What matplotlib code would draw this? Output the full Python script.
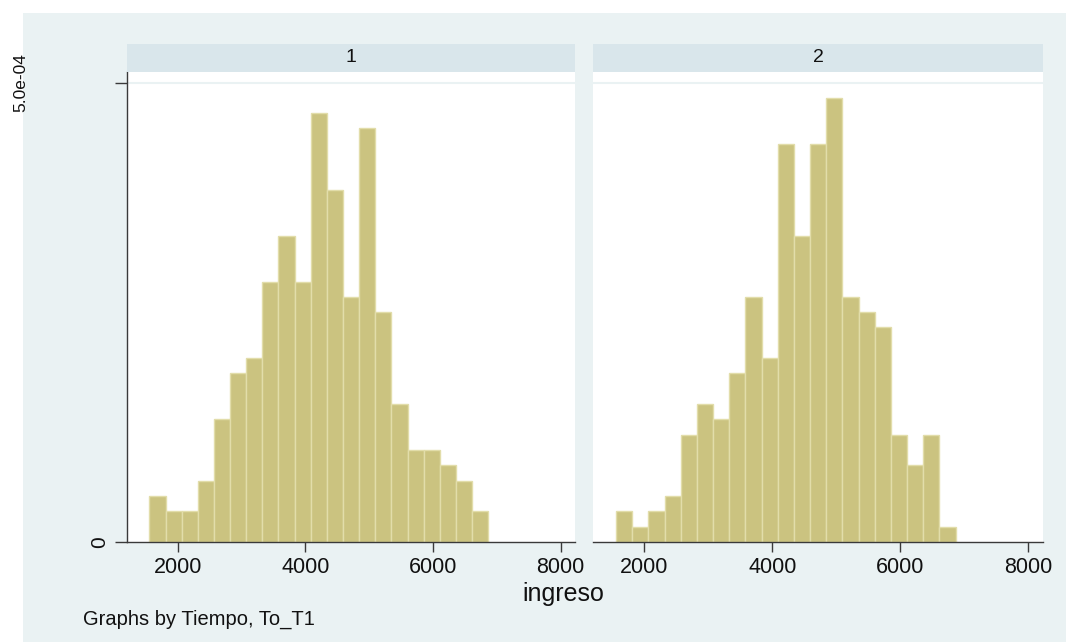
import numpy as np
import matplotlib
matplotlib.use("Agg")
import matplotlib.pyplot as plt
from matplotlib.patches import Rectangle
from matplotlib.transforms import ScaledTranslation

plt.rcParams["font.family"] = ["Liberation Sans", "DejaVu Sans"]

# Histogram of ingreso by Tiempo (21 common bins)
bin_start = 1557.0
bin_width = 252.8
counts_t1 = [3, 2, 2, 4, 8, 11, 12, 17, 20, 17, 28, 23, 16, 27, 15, 9, 6, 6, 5, 4, 2]
counts_t2 = [2, 1, 2, 3, 7, 9, 8, 11, 16, 12, 26, 20, 26, 29, 16, 15, 14, 7, 5, 7, 1]
panel_titles = ["1", "2"]
x_ticks = [2000, 4000, 6000, 8000]
y_ticks = [0, 5e-4]
y_tick_labels = ["0", "5.0e-04"]

BG = "#EAF2F3"
STRIP = "#D9E6EB"
BAR = "#CBC380"
BAR_EDGE = "#E2DDAA"
AXIS = "#3A3A3A"
TXT = "#111111"

W, H = 1066, 642
fig = plt.figure(figsize=(W / 100, H / 100), dpi=100)
fig.patch.set_facecolor("white")
fig.add_artist(Rectangle((23 / W, 0), 1 - 23 / W, 1 - 13 / H,
                         transform=fig.transFigure, facecolor=BG,
                         edgecolor="none", zorder=0))

plot_bottom = 1 - 542 / H
plot_top = 1 - 72 / H
strip_h = 28 / H
panels = [(126.7, 575.3), (593.3, 1042.7)]

for i, (counts, title) in enumerate(zip([counts_t1, counts_t2], panel_titles)):
    x0, x1 = panels[i]
    ax = fig.add_axes([x0 / W, plot_bottom, (x1 - x0) / W, plot_top - plot_bottom])
    ax.set_facecolor("white")

    counts = np.array(counts, dtype=float)
    lefts = bin_start + bin_width * np.arange(len(counts))
    density = counts / (counts.sum() * bin_width)
    ax.bar(lefts, density, width=bin_width, align="edge", color=BAR,
           edgecolor=BAR_EDGE, linewidth=1.0, zorder=2)

    ax.set_xlim(1202, 8228)
    ax.set_ylim(0, 5.12e-4)
    ax.axhline(5e-4, color=BG, linewidth=1.5, zorder=1)

    for s in ["top", "right"]:
        ax.spines[s].set_visible(False)
    ax.spines["bottom"].set_color(AXIS)
    ax.spines["bottom"].set_linewidth(1.0)
    ax.set_xticks(x_ticks)
    ax.set_xticklabels([str(t) for t in x_ticks])
    ax.tick_params(axis="x", length=7, width=1, color=AXIS, pad=4,
                   labelsize=15.5, labelcolor=TXT)

    if i == 0:
        ax.spines["left"].set_color(AXIS)
        ax.spines["left"].set_linewidth(1.0)
        ax.set_yticks(y_ticks)
        ax.set_yticklabels(y_tick_labels, rotation=90, va="center")
        ax.tick_params(axis="y", length=9, width=1, color=AXIS, pad=4,
                       labelsize=15, labelcolor=TXT)
        lab = ax.get_yticklabels()[1]
        lab.set_fontsize(12.5)
        lab.set_transform(lab.get_transform()
                          + ScaledTranslation(-0.80, 0, fig.dpi_scale_trans))
    else:
        ax.spines["left"].set_visible(False)
        ax.set_yticks([])

    # facet header strip
    sax = fig.add_axes([x0 / W, plot_top, (x1 - x0) / W, strip_h])
    sax.set_facecolor(STRIP)
    sax.set_xticks([])
    sax.set_yticks([])
    for s in sax.spines.values():
        s.set_visible(False)
    sax.text(0.5, 0.5, title, ha="center", va="center", fontsize=14,
             color=TXT, transform=sax.transAxes)

fig.text(563 / W, 1 - 594 / H, "ingreso", ha="center", va="center",
         fontsize=18, color=TXT)
fig.text(83 / W, 1 - 619 / H, "Graphs by Tiempo, To_T1", ha="left",
         va="center", fontsize=14.5, color=TXT)

fig.savefig("out.png", dpi=100, facecolor=fig.get_facecolor())
